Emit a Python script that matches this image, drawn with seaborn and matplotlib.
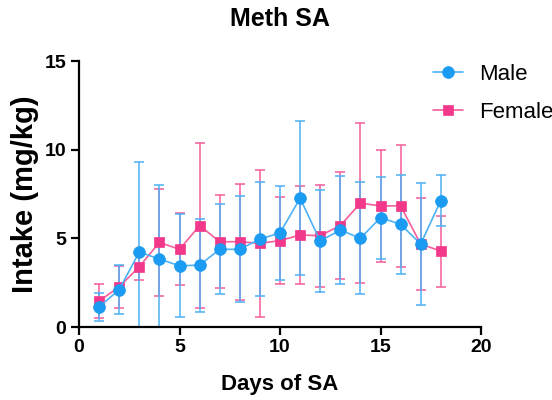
import numpy as np
import pandas as pd
import seaborn as sns
import matplotlib.pyplot as plt

days = list(range(1, 19))
male_mean = [1.13, 2.11, 4.23, 3.83, 3.45, 3.49, 4.38, 4.38, 4.96, 5.30,
             7.26, 4.85, 5.47, 5.00, 6.17, 5.79, 4.68, 7.13]
male_sd = [0.80, 1.38, 5.05, 4.19, 2.90, 2.62, 2.53, 2.99, 3.24, 2.66,
           4.34, 2.86, 3.06, 3.15, 2.31, 2.78, 3.45, 1.45]
female_mean = [1.47, 2.26, 3.40, 4.77, 4.38, 5.72, 4.81, 4.81, 4.72, 4.87,
               5.19, 5.15, 5.72, 6.98, 6.83, 6.83, 4.68, 4.28]
female_sd = [0.97, 1.18, 0.76, 3.00, 2.03, 4.63, 2.62, 3.28, 4.15, 2.44,
             2.77, 2.87, 3.00, 4.52, 3.14, 3.45, 2.59, 2.00]

groups = ["Male", "Female"]
marker_colors = {"Male": "#1B9BF2", "Female": "#F2388A"}
line_colors = {"Male": "#4DB1F5", "Female": "#F55E9B"}
markers = {"Male": "o", "Female": "s"}

sns.set_theme(style="ticks")
plt.rcParams["font.family"] = ["Liberation Sans", "DejaVu Sans"]
plt.rcParams["text.color"] = "black"
plt.rcParams["axes.labelcolor"] = "black"
plt.rcParams["xtick.color"] = "black"
plt.rcParams["ytick.color"] = "black"

fig = plt.figure(figsize=(5.52, 4), dpi=100)
ax = fig.add_axes([79 / 552, 1 - 327 / 400, 402 / 552, 266 / 400])

df = pd.DataFrame({
    "Day": days * 2,
    "Intake": male_mean + female_mean,
    "SD": male_sd + female_sd,
    "Sex": ["Male"] * len(days) + ["Female"] * len(days),
})

for sex in ["Female", "Male"]:
    sub = df[df["Sex"] == sex]
    ax.errorbar(sub["Day"], sub["Intake"], yerr=sub["SD"], fmt="none",
                ecolor=line_colors[sex], elinewidth=1.3, capsize=3.8,
                capthick=1.3, alpha=0.85, zorder=2)
    sns.lineplot(data=sub, x="Day", y="Intake", ax=ax, color=line_colors[sex],
                 linewidth=1.2, marker=markers[sex], markersize=8.5 if sex == "Male" else 7.5,
                 markerfacecolor=marker_colors[sex], markeredgecolor=marker_colors[sex],
                 markeredgewidth=0.5, label=sex, zorder=3, errorbar=None)

ax.set_xlim(0, 20)
ax.set_ylim(0, 15)
ax.set_xticks([0, 5, 10, 15, 20])
ax.set_yticks([0, 5, 10, 15])
for s in ["top", "right"]:
    ax.spines[s].set_visible(False)
for s in ["left", "bottom"]:
    ax.spines[s].set_linewidth(1.6)
    ax.spines[s].set_color("black")
ax.tick_params(axis="both", length=6, width=1.6, color="black", labelcolor="black",
               labelsize=14, pad=3)
for lab in ax.get_xticklabels() + ax.get_yticklabels():
    lab.set_fontweight("bold")

ax.set_xlabel("Days of SA", fontsize=16, fontweight="bold", color="black")
ax.set_ylabel("Intake (mg/kg)", fontsize=21, fontweight="bold", color="black")
ax.xaxis.set_label_coords(0.5, -0.215)
ax.yaxis.set_label_coords(-0.134, 0.5)
ax.yaxis.label.set_va("center")
ax.xaxis.label.set_va("center")

fig.text(280 / 552, 1 - 19 / 400, "Meth SA", ha="center", va="center",
         fontsize=18, fontweight="bold", color="black")

handles, labels = ax.get_legend_handles_labels()
order = [labels.index("Male"), labels.index("Female")]
leg = ax.legend([handles[i] for i in order], [labels[i] for i in order],
                loc="upper left", bbox_to_anchor=(0.858, 1.022), frameon=False,
                fontsize=16, handlelength=1.35, handletextpad=0.72, labelspacing=0.75,
                borderaxespad=0)
for t in leg.get_texts():
    t.set_color("black")

fig.savefig("out.png", dpi=100)
